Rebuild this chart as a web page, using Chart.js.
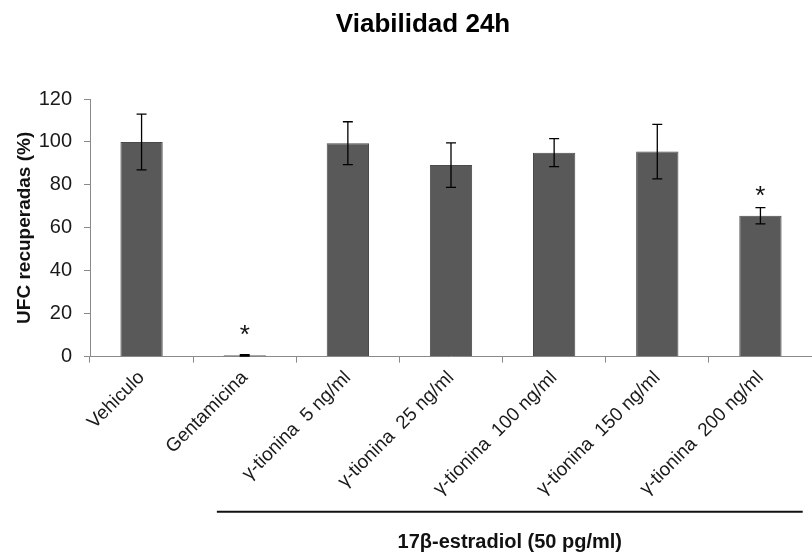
<!DOCTYPE html>
<html>
<head>
<meta charset="utf-8">
<script src="https://cdn.jsdelivr.net/npm/chart.js@4.4.1/dist/chart.umd.min.js"></script>
<style>
  html, body { margin: 0; padding: 0; background: #fff; }
  #wrap { width: 812px; height: 552px; }
</style>
</head>
<body>
<div id="wrap"><canvas id="viabChart" width="812" height="552"></canvas></div>
<script>
/* ── Data ─────────────────────────────────────────────── */
const categories  = ['Vehiculo', 'Gentamicina', 'γ-tionina  5 ng/ml', 'γ-tionina  25 ng/ml',
                     'γ-tionina  100 ng/ml', 'γ-tionina  150 ng/ml', 'γ-tionina  200 ng/ml'];
const means       = [100, 0.6, 99.4, 89.2, 95.0, 95.5, 65.6];
const errors      = [13.0, 0.3, 10.0, 10.4, 6.5, 12.7, 3.8];
const significant = [false, true, false, false, false, false, true];
const yTicks      = [0, 20, 40, 60, 80, 100, 120];
const chartTitle  = 'Viabilidad 24h';
const groupLabel  = '17β-estradiol (50 pg/ml)';
const groupRange  = [1, 6];   // first / last category under the bracket

const FONT = "Arial, 'Liberation Sans', sans-serif";

/* ── Error bars + significance stars ──────────────────── */
const errorBars = {
  id: 'errorBars',
  afterDatasetsDraw(chart) {
    const { ctx, scales: { y } } = chart;
    const bars = chart.getDatasetMeta(0).data;
    ctx.save();
    ctx.strokeStyle = '#000';
    ctx.lineWidth = 1.3;
    bars.forEach((bar, i) => {
      const top = y.getPixelForValue(means[i] + errors[i]);
      const bot = y.getPixelForValue(Math.max(0, means[i] - errors[i]));
      ctx.beginPath();
      ctx.moveTo(bar.x, top); ctx.lineTo(bar.x, bot);
      ctx.moveTo(bar.x - 5, top); ctx.lineTo(bar.x + 5, top);
      ctx.moveTo(bar.x - 5, bot); ctx.lineTo(bar.x + 5, bot);
      ctx.stroke();
      if (significant[i]) {
        ctx.fillStyle = '#111';
        ctx.font = `26px ${FONT}`;
        ctx.textAlign = 'center';
        ctx.textBaseline = 'alphabetic';
        ctx.fillText('*', bar.x, y.getPixelForValue(means[i]) - 12);
      }
    });
    ctx.restore();
  },
};

/* ── Title + treatment bracket under the x labels ─────── */
const annotations = {
  id: 'annotations',
  afterDraw(chart) {
    const { ctx, chartArea, scales: { x } } = chart;
    ctx.save();
    ctx.fillStyle = '#000';
    ctx.font = `bold 26px ${FONT}`;
    ctx.textAlign = 'center';
    ctx.textBaseline = 'middle';
    ctx.fillText(chartTitle, chart.width * 0.521, 25);

    const step = x.getPixelForValue(1) - x.getPixelForValue(0);
    const x0 = x.getPixelForValue(groupRange[0]) - 0.27 * step;
    const x1 = x.getPixelForValue(groupRange[1]) + 0.41 * step;
    const yLine = chartArea.bottom + 155;
    ctx.strokeStyle = '#111';
    ctx.lineWidth = 2;
    ctx.beginPath();
    ctx.moveTo(x0, yLine); ctx.lineTo(x1, yLine);
    ctx.stroke();
    ctx.fillStyle = '#111';
    ctx.font = `bold 20px ${FONT}`;
    ctx.fillText(groupLabel, (x0 + x1) / 2, yLine + 31);
    ctx.restore();
  },
};

/* ── Chart ────────────────────────────────────────────── */
new Chart(document.getElementById('viabChart'), {
  type: 'bar',
  data: {
    labels: categories,
    datasets: [{
      data: means,
      backgroundColor: '#595959',
      borderColor: '#4a4a4a',
      borderWidth: 1,
      categoryPercentage: 1,
      barPercentage: 0.41,
    }],
  },
  options: {
    responsive: false,
    animation: false,
    layout: { padding: { top: 99, right: 0, bottom: 48, left: 13 } },
    plugins: {
      legend: { display: false },
      tooltip: { enabled: false },
      title: { display: false },
    },
    scales: {
      x: {
        // let the rotated first label hang left of the plot, as in the original
        afterFit: (scale) => { scale.paddingLeft = 0; scale.paddingRight = 0; },
        border: { color: '#8a8a8a', width: 1 },
        grid: { display: true, drawOnChartArea: false, tickLength: 6, color: '#8a8a8a' },
        ticks: {
          color: '#1a1a1a',
          font: { family: FONT, size: 19 },
          minRotation: 45, maxRotation: 45,
          padding: 4,
        },
      },
      y: {
        min: yTicks[0],
        max: yTicks[yTicks.length - 1],
        afterBuildTicks: (axis) => { axis.ticks = yTicks.map(v => ({ value: v })); },
        afterFit: (scale) => { scale.width = 77; },
        border: { color: '#8a8a8a', width: 1 },
        grid: { display: true, drawOnChartArea: false, tickLength: 6, color: '#8a8a8a' },
        ticks: {
          color: '#1a1a1a',
          font: { family: FONT, size: 20 },
          padding: 12,
        },
        title: {
          display: true,
          text: 'UFC recuperadas (%)',
          color: '#111',
          font: { family: FONT, size: 19, weight: 'bold' },
          padding: { top: 0, bottom: 4 },
        },
      },
    },
  },
  plugins: [errorBars, annotations],
});
</script>
</body>
</html>
